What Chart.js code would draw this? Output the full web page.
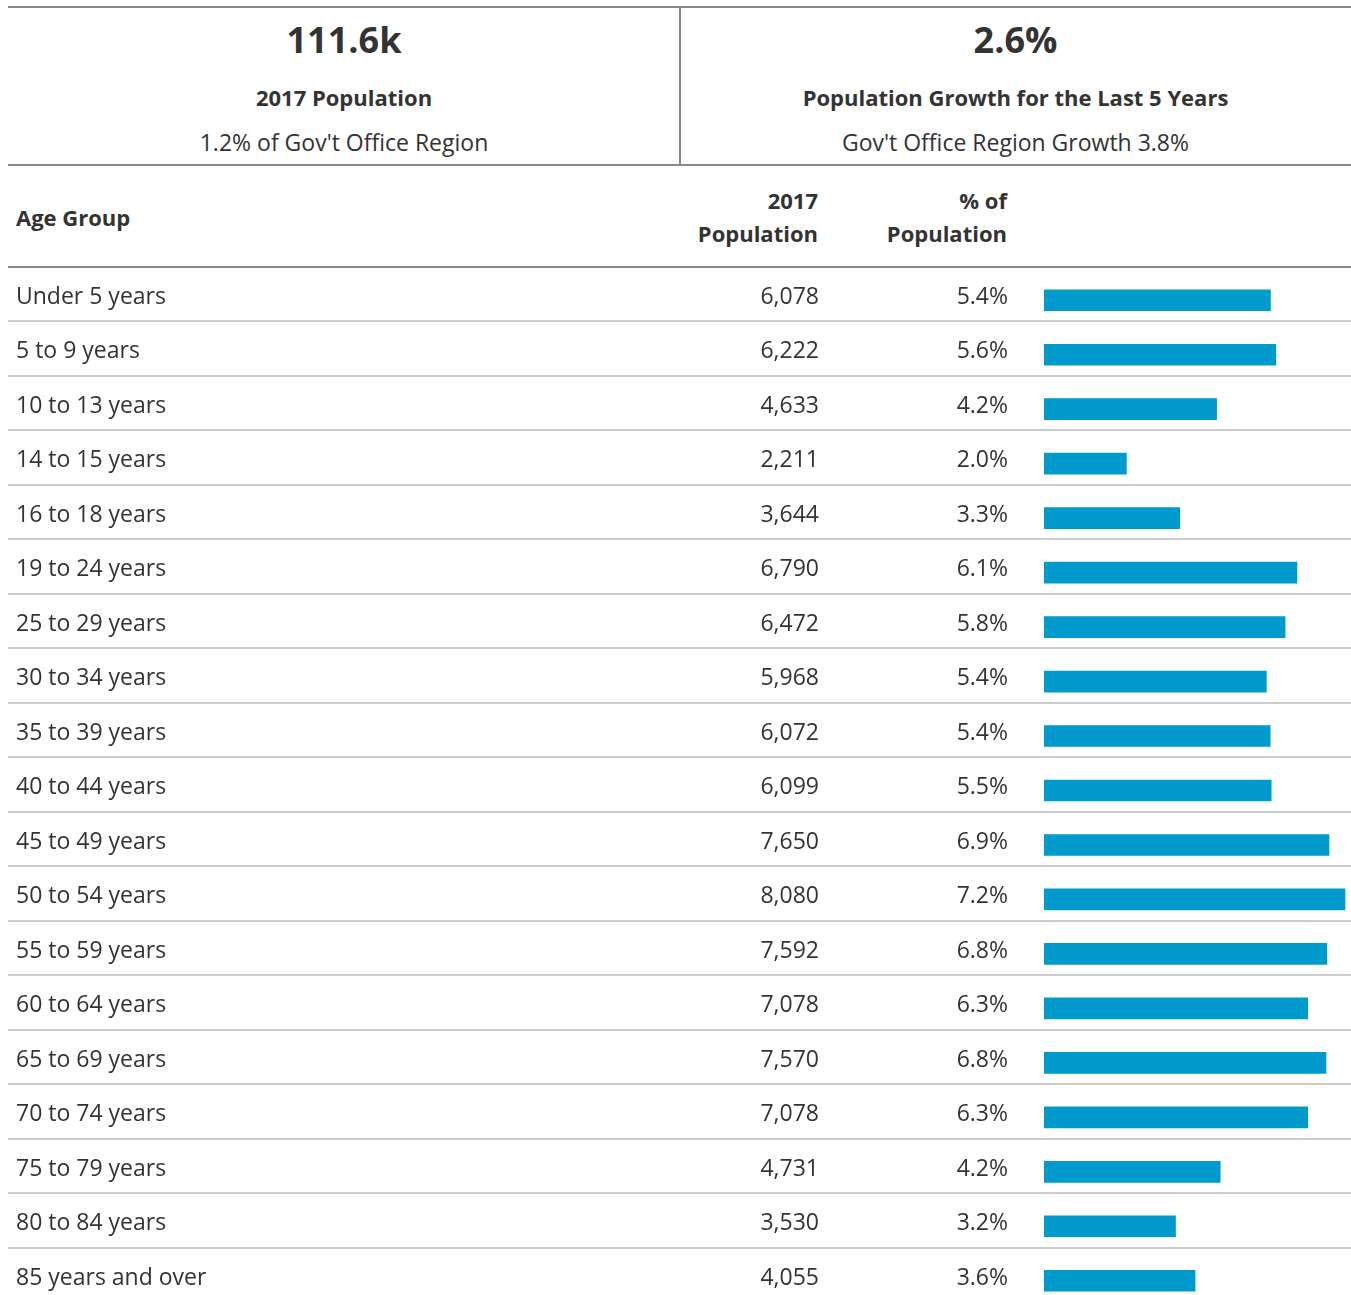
<!DOCTYPE html>
<html>
<head>
<meta charset="utf-8">
<script src="https://cdn.jsdelivr.net/npm/chart.js@4"></script>
<style>
  html, body { margin: 0; padding: 0; background: #fff; overflow: hidden; }
  body { width: 1351px; height: 1295px; position: relative; font-family: "Open Sans", sans-serif; color: #333; }
  .t { position: absolute; line-height: 1; white-space: nowrap; }
  .b { font-weight: bold; }
  .rule { position: absolute; background: #888; }
  #wrap { position: absolute; left: 0; top: 255px; width: 1351px; height: 1040px; overflow: hidden; }
</style>
</head>
<body>
<div class="rule" style="left:8px;top:6px;width:1343px;height:2px"></div>
<div class="rule" style="left:679px;top:7px;width:2px;height:158px"></div>
<div class="rule" style="left:8px;top:164px;width:1343px;height:2px"></div>

<div class="t b" style="left:8px;width:672px;text-align:center;top:22px;font-size:36px">111.6k</div>
<div class="t b" style="left:8px;width:672px;text-align:center;top:86px;font-size:22px">2017 Population</div>
<div class="t" style="left:8px;width:672px;text-align:center;top:131px;font-size:23px">1.2% of Gov't Office Region</div>

<div class="t b" style="left:680px;width:671px;text-align:center;top:22px;font-size:36px">2.6%</div>
<div class="t b" style="left:680px;width:671px;text-align:center;top:86px;font-size:22px">Population Growth for the Last 5 Years</div>
<div class="t" style="left:680px;width:671px;text-align:center;top:131px;font-size:23px">Gov't Office Region Growth 3.8%</div>

<div class="t b" style="left:16px;top:206px;font-size:22px">Age Group</div>
<div class="t b" style="left:0;width:818px;text-align:right;top:189px;font-size:22px">2017</div>
<div class="t b" style="left:0;width:818px;text-align:right;top:222px;font-size:22px">Population</div>
<div class="t b" style="left:0;width:1007px;text-align:right;top:189px;font-size:22px">% of</div>
<div class="t b" style="left:0;width:1007px;text-align:right;top:222px;font-size:22px">Population</div>

<div id="wrap"><canvas id="ages" width="1351" height="1060"></canvas></div>

<script>
const ageGroups = ['Under 5 years', '5 to 9 years', '10 to 13 years', '14 to 15 years', '16 to 18 years',
  '19 to 24 years', '25 to 29 years', '30 to 34 years', '35 to 39 years', '40 to 44 years',
  '45 to 49 years', '50 to 54 years', '55 to 59 years', '60 to 64 years', '65 to 69 years',
  '70 to 74 years', '75 to 79 years', '80 to 84 years', '85 years and over'];
const population = [6078, 6222, 4633, 2211, 3644, 6790, 6472, 5968, 6072, 6099,
  7650, 8080, 7592, 7078, 7570, 7078, 4731, 3530, 4055];
const percentOfPop = [5.4, 5.6, 4.2, 2.0, 3.3, 6.1, 5.8, 5.4, 5.4, 5.5,
  6.9, 7.2, 6.8, 6.3, 6.8, 6.3, 4.2, 3.2, 3.6];

// bars sit a little below the middle of each row
const barShift = 6;

const tableRows = {
  id: 'tableRows',
  beforeDatasetsDraw(chart) {
    const ctx = chart.ctx, ys = chart.scales.y;
    const rowH = ys.height / ageGroups.length;
    ctx.save();
    ageGroups.forEach((g, i) => {
      const top = Math.round(ys.getPixelForValue(i) - rowH / 2 - barShift);
      ctx.strokeStyle = i === 0 ? '#888' : '#cdcdcd';
      ctx.lineWidth = 2;
      ctx.beginPath();
      ctx.moveTo(8, top);
      ctx.lineTo(chart.width, top);
      ctx.stroke();
    });
    ctx.restore();
  },
  afterDatasetsDraw(chart) {
    const ctx = chart.ctx, ys = chart.scales.y;
    const rowH = ys.height / ageGroups.length;
    ctx.save();
    ctx.fillStyle = '#333';
    ctx.font = '23px "Open Sans"';
    ctx.textBaseline = 'alphabetic';
    ageGroups.forEach((g, i) => {
      const base = ys.getPixelForValue(i) - rowH / 2 - barShift + 37;
      ctx.textAlign = 'left';
      ctx.fillText(g, 16, base);
      ctx.textAlign = 'right';
      ctx.fillText(population[i].toLocaleString('en-US'), 819, base);
      ctx.fillText(percentOfPop[i].toFixed(1) + '%', 1008, base);
    });
    ctx.restore();
  }
};

new Chart(document.getElementById('ages').getContext('2d'), {
  type: 'bar',
  data: {
    labels: ageGroups,
    datasets: [{
      data: population,
      backgroundColor: '#009acd',
      borderWidth: 0,
      barThickness: 21
    }]
  },
  options: {
    indexAxis: 'y',
    responsive: false,
    animation: false,
    layout: { padding: { left: 1044, right: 0, top: 18, bottom: 7 } },
    scales: {
      x: { display: false, min: 0, max: 8241 },
      y: { display: false }
    },
    plugins: {
      legend: { display: false },
      tooltip: { enabled: false }
    }
  },
  plugins: [tableRows]
});
</script>
</body>
</html>
